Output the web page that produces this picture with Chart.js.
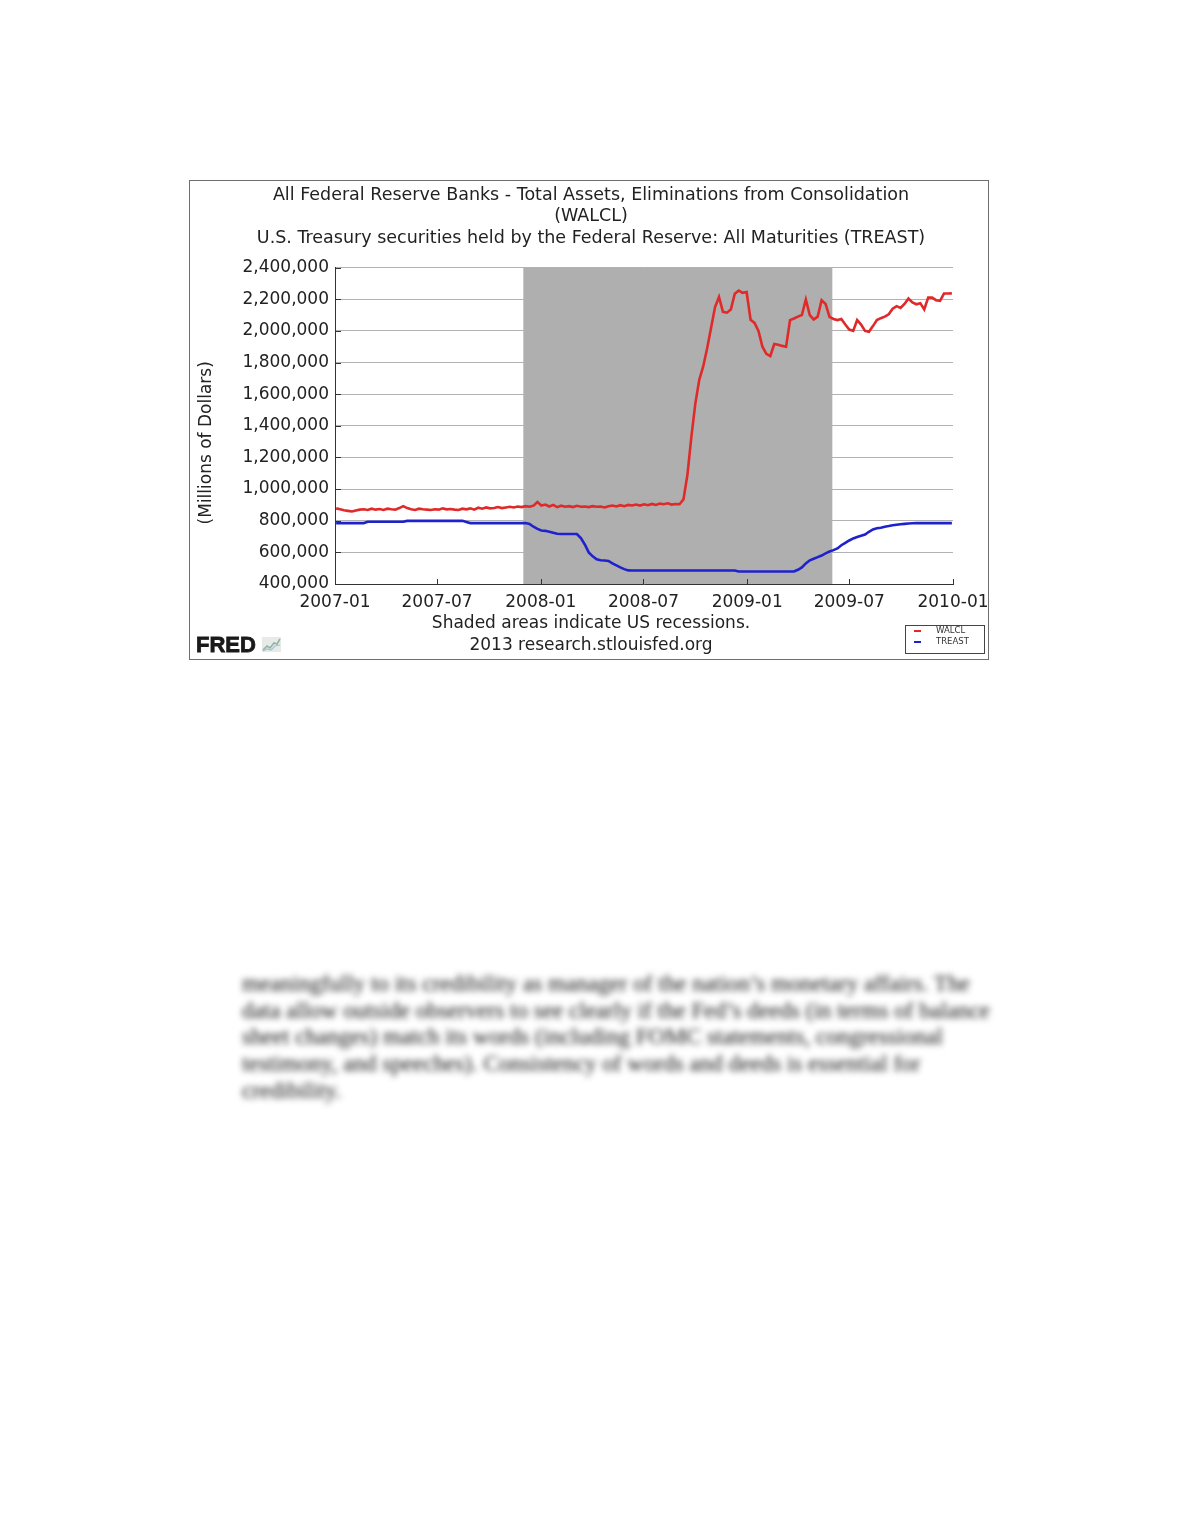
<!DOCTYPE html>
<html>
<head>
<meta charset="utf-8">
<script src="https://cdn.jsdelivr.net/npm/chart.js@4.4.1/dist/chart.umd.min.js"></script>
<style>
	body { margin: 0; background: #fff; width: 1180px; height: 1527px; position: relative; font-family: "DejaVu Sans", sans-serif; }
	#box { position: absolute; left: 189px; top: 180px; width: 798px; height: 478px; border: 1px solid #6e6e6e; background: #fff; }
	#fredChart { position: absolute; left: 0; top: 0; }
	#logo { position: absolute; left: 6px; top: 453px; font: bold 22px/22px "Liberation Sans", Arial, sans-serif; color: #1a1a1a; -webkit-text-stroke: 0.8px #1a1a1a; }
	#logo svg { position: absolute; left: 66px; top: 3px; }
	#para { position: absolute; left: 242px; top: 970px; font: 23.1px/26.7px "Liberation Serif", "Times New Roman", serif; color: #111; filter: blur(3px); white-space: nowrap; }
</style>
</head>
<body>
<div id="box">
	<canvas id="fredChart" width="798" height="478"></canvas>
	<div id="logo">FRED<svg width="19" height="15" viewBox="0 0 19 15"><rect x="0" y="0" width="19" height="15" fill="#e6ebe8"/><polyline points="1,13 5,9 8,11 12,6 15,7 18,2" fill="none" stroke="#8fb4a2" stroke-width="1.6"/><polyline points="1,14 5,12 9,13 13,9 18,8" fill="none" stroke="#a9bfd0" stroke-width="1.2"/></svg></div>
</div>
<div id="para">
	meaningfully to its credibility as manager of the nation’s monetary affairs. The<br>
	data allow outside observers to see clearly if the Fed’s deeds (in terms of balance<br>
	sheet changes) match its words (including FOMC statements, congressional<br>
	testimony, and speeches). Consistency of words and deeds is essential for<br>
	credibility.
</div>
<script>
// weekly observations (Wednesdays), starting with the first week of 2007
const firstWeek = "2007-01-03";
const axisStart = "2007-01-01";
const axisEnd = "2010-01-01";
const recessionStart = "2007-12-01";
const recessionEnd = "2009-06-01";

const titleLines = [
	"All Federal Reserve Banks - Total Assets, Eliminations from Consolidation",
	"(WALCL)",
	"U.S. Treasury securities held by the Federal Reserve: All Maturities (TREAST)",
];
const footerLines = ["Shaded areas indicate US recessions.", "2013 research.stlouisfed.org"];
const yTitle = "(Millions of Dollars)";
const xTickLabels = ["2007-01", "2007-07", "2008-01", "2008-07", "2009-01", "2009-07", "2010-01"];
const yTicks = [400000, 600000, 800000, 1000000, 1200000, 1400000, 1600000, 1800000, 2000000, 2200000, 2400000];
const seriesNames = ["WALCL", "TREAST"];

// WALCL, millions of dollars
const walcl = [
	878000, 872000, 866000, 862000, 858000, 865000, 870000, 872000, 868000, 876000, 870000, 874000, 868000, 876000, 872000, 870000,
	880000, 892000, 880000, 872000, 868000, 876000, 872000, 870000, 868000, 872000, 870000, 878000, 872000, 874000, 870000, 868000,
	876000, 872000, 878000, 870000, 882000, 876000, 884000, 878000, 880000, 886000, 880000, 884000, 888000, 884000, 890000, 886000,
	892000, 888000, 895000, 918000, 896000, 902000, 890000, 900000, 886000, 895000, 888000, 892000, 886000, 894000, 888000, 890000,
	886000, 892000, 888000, 890000, 884000, 892000, 896000, 890000, 898000, 892000, 900000, 896000, 902000, 896000, 904000, 898000,
	906000, 900000, 908000, 904000, 910000, 902000, 906000, 904000,
	935000, 1090000, 1330000, 1540000, 1690000, 1775000, 1890000, 2020000, 2150000, 2214000, 2120000, 2115000, 2135000, 2235000, 2255000, 2240000,
	2245000, 2070000, 2050000, 2000000, 1900000, 1855000, 1841000, 1917000, 1912000, 1905000, 1900000, 2068000, 2078000, 2090000, 2100000, 2198000,
	2100000, 2072000, 2090000, 2194000, 2170000, 2089000, 2075000, 2068000, 2075000, 2040000, 2008000, 2000000, 2068000, 2040000, 2000000, 1994000,
	2030000, 2068000, 2080000, 2090000, 2105000, 2140000, 2156000, 2145000, 2170000, 2204000, 2180000, 2168000, 2175000, 2135000, 2211000, 2210000,
	2194000, 2190000, 2236000, 2236000, 2237000,
];

// TREAST, millions of dollars
const treast = [
	785000, 785000, 785000, 785000, 785000, 785000, 785000, 785000,
	793000, 793000, 793000, 793000, 793000, 793000, 793000, 793000, 793000, 793000,
	799000, 799000, 799000, 799000, 799000, 799000, 799000, 799000, 799000, 799000, 799000, 799000, 799000, 799000, 799000,
	792000, 785000, 785000, 785000, 785000, 785000, 785000, 785000, 785000, 785000, 785000, 785000, 785000, 785000, 785000, 785000,
	780000, 762000, 748000, 738000, 736000, 730000, 724000, 718000,
	716000, 716000, 716000, 716000, 716000,
	690000, 650000, 600000, 575000, 556000, 550000, 549000, 546000, 530000, 518000, 505000, 494000, 486000,
	485000, 485000, 485000, 485000, 485000, 485000, 485000, 485000, 485000, 485000, 485000, 485000, 485000, 485000,
	485000, 485000, 485000, 485000, 485000, 485000, 485000, 485000, 485000, 485000, 485000, 485000, 485000,
	479000, 479000, 479000, 479000, 479000, 479000, 479000, 479000, 479000, 479000, 479000, 479000, 479000, 479000, 479000,
	490000, 505000, 530000, 550000, 560000, 570000, 580000, 594000, 605000, 614000, 625000, 645000, 660000, 675000, 688000,
	697000, 705000, 713000, 730000, 745000, 752000, 756000, 762000, 766000, 771000, 775000, 778000, 780000, 782000, 784000,
	785000, 785000, 785000, 785000, 785000, 785000, 785000, 785000, 785000, 785000,
];

const dayOf = (s) => (Date.parse(s) - Date.parse(axisStart)) / 864e5;
const weekDay = (i) => dayOf(firstWeek) + 7 * i;
const xTickDays = xTickLabels.map((t) => dayOf(t + "-01"));

const recessionShade = {
	id: "recessionShade",
	beforeDatasetsDraw(chart) {
		const { ctx, chartArea, scales } = chart;
		const x0 = scales.x.getPixelForValue(dayOf(recessionStart));
		const x1 = scales.x.getPixelForValue(dayOf(recessionEnd));
		ctx.save();
		ctx.fillStyle = "#afafaf";
		ctx.fillRect(x0, chartArea.top, x1 - x0, chartArea.bottom - chartArea.top);
		ctx.restore();
	},
};

// tick marks point inward, plus the rotated y title and the small legend box
const fredExtras = {
	id: "fredExtras",
	afterDatasetsDraw(chart) {
		const { ctx, chartArea, scales } = chart;
		ctx.save();
		ctx.strokeStyle = "#333";
		ctx.lineWidth = 1;
		ctx.beginPath();
		xTickDays.forEach((d) => {
			const px = Math.round(scales.x.getPixelForValue(d)) + 0.5;
			ctx.moveTo(px, chartArea.bottom);
			ctx.lineTo(px, chartArea.bottom - 5);
		});
		yTicks.forEach((v) => {
			const py = Math.round(scales.y.getPixelForValue(v)) + 0.5;
			ctx.moveTo(chartArea.left, py);
			ctx.lineTo(chartArea.left + 6, py);
		});
		ctx.stroke();
		ctx.restore();
	},
	afterDraw(chart) {
		const { ctx, chartArea } = chart;
		ctx.save();
		ctx.fillStyle = "#222";
		ctx.font = '17px "DejaVu Sans"';
		ctx.textAlign = "center";
		ctx.textBaseline = "middle";
		ctx.translate(17, (chartArea.top + chartArea.bottom) / 2 + 17);
		ctx.rotate(-Math.PI / 2);
		ctx.fillText(yTitle, 0, 0);
		ctx.restore();

		const bx = chart.width - 83, by = chart.height - 34;
		ctx.save();
		ctx.fillStyle = "#fff";
		ctx.fillRect(bx, by, 79, 28);
		ctx.strokeStyle = "#444";
		ctx.lineWidth = 1;
		ctx.strokeRect(bx + 0.5, by + 0.5, 79, 28);
		ctx.font = '8.5px "DejaVu Sans"';
		ctx.textBaseline = "middle";
		chart.data.datasets.forEach((ds, i) => {
			const ly = by + 6 + i * 11;
			ctx.strokeStyle = ds.borderColor;
			ctx.lineWidth = 2;
			ctx.beginPath();
			ctx.moveTo(bx + 9, ly);
			ctx.lineTo(bx + 16, ly);
			ctx.stroke();
			ctx.fillStyle = "#333";
			ctx.fillText(ds.label, bx + 31, ly);
		});
		ctx.restore();
	},
};

Chart.defaults.font.family = '"DejaVu Sans", sans-serif';
Chart.defaults.color = "#222";

new Chart(document.getElementById("fredChart"), {
	type: "line",
	data: {
		datasets: [
			{
				label: seriesNames[0],
				data: walcl.map((v, i) => ({ x: weekDay(i), y: v })),
				borderColor: "#e02a2a",
				borderWidth: 2.6,
				pointRadius: 0,
				tension: 0,
			},
			{
				label: seriesNames[1],
				data: treast.map((v, i) => ({ x: weekDay(i), y: v })),
				borderColor: "#1f22cc",
				borderWidth: 2.6,
				pointRadius: 0,
				tension: 0,
			},
		],
	},
	options: {
		responsive: false,
		animation: false,
		layout: { padding: { left: 4, right: 0, top: 0, bottom: 0 } },
		plugins: {
			legend: { display: false },
			tooltip: { enabled: false },
			title: {
				display: true,
				text: titleLines,
				color: "#222",
				font: { size: 17.5, weight: "normal", lineHeight: 1.23 },
				padding: { top: 3.5, bottom: 18.5 },
			},
			subtitle: {
				display: true,
				position: "bottom",
				text: footerLines,
				color: "#222",
				font: { size: 17, weight: "normal", lineHeight: 1.3 },
				padding: { top: 0, bottom: 2 },
			},
		},
		scales: {
			x: {
				type: "linear",
				min: dayOf(axisStart),
				max: dayOf(axisEnd),
				afterBuildTicks: (scale) => {
					scale.ticks = xTickDays.map((d) => ({ value: d }));
				},
				afterFit: (scale) => {
					scale.height = 28.8;
					scale.paddingLeft = 0;
					scale.paddingRight = 35;
				},
				grid: { display: false, drawTicks: false },
				border: { display: true, color: "#333" },
				ticks: {
					autoSkip: false,
					maxRotation: 0,
					padding: 8,
					font: { size: 17 },
					callback: (v, i) => xTickLabels[i],
				},
			},
			y: {
				min: yTicks[0],
				max: yTicks[yTicks.length - 1],
				afterBuildTicks: (scale) => {
					scale.ticks = yTicks.map((v) => ({ value: v }));
				},
				afterFit: (scale) => {
					scale.width = 141;
				},
				grid: { color: "#b2b2b2", drawTicks: false },
				border: { color: "#333" },
				ticks: {
					padding: 6,
					font: { size: 17 },
					callback: (v) => v.toLocaleString("en-US"),
				},
			},
		},
	},
	plugins: [recessionShade, fredExtras],
});
</script>
</body>
</html>
